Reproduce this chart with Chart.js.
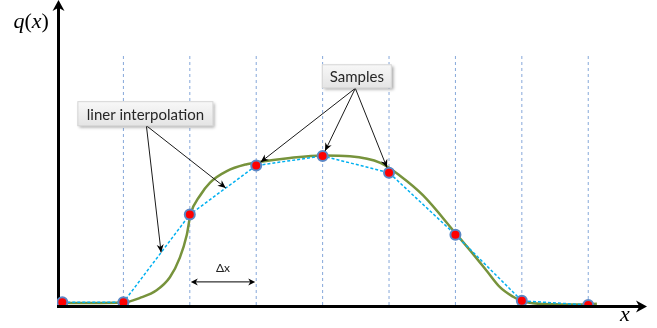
<!DOCTYPE html>
<html>
<head>
<meta charset="utf-8">
<script src="https://cdn.jsdelivr.net/npm/chart.js@4/dist/chart.umd.min.js"></script>
<style>
  html, body { margin: 0; padding: 0; background: #fff; }
  #wrap { width: 657px; height: 328px; }
</style>
</head>
<body>
<div id="wrap"><canvas id="sampling"></canvas></div>
<script>
// Sample positions (in units of Δx) and sampled values q(x_i)
const sampleX = [0.08, 1, 2, 3, 4, 5, 6, 7, 8]
const sampleQ = [0.018, 0.018, 0.607, 0.936, 1.0, 0.888, 0.472, 0.028, 0.0]

// Underlying continuous signal q(x)
const curveX = [0.02, 0.5, 1.0, 1.25, 1.5, 1.7, 1.85, 1.955, 2.01, 2.155, 2.305, 2.557, 2.858, 3.01, 3.51, 4.01, 4.41, 4.87, 5.17, 5.51, 6.02, 6.27, 6.47, 6.67, 6.87, 7.0, 7.17, 7.6, 7.98, 8.13]
const curveQ = [0.013, 0.013, 0.016, 0.048, 0.099, 0.186, 0.318, 0.472, 0.607, 0.735, 0.822, 0.899, 0.945, 0.958, 0.987, 1.003, 0.998, 0.954, 0.866, 0.737, 0.472, 0.340, 0.230, 0.120, 0.055, 0.026, 0.011, 0.004, 0.003, 0.008]

// Sampling grid lines
const gridX = [1, 2, 3, 4, 5, 6, 7, 8]
const gridTop = 1.678

// Callouts: text, centre (data units), arrow targets
const linerLabel = 'liner interpolation'
const linerCenter = [1.331, 1.284]
const linerTargetsX = [2.542, 1.568]   // points on the interpolation line
const samplesLabel = 'Samples'
const samplesCenter = [4.515, 1.535]
const samplesTargets = [3, 4, 5]       // indices into sample arrays
const deltaSpan = [2, 3]
const deltaQ = 0.155

const toPoints = (xs, ys) => xs.map((x, i) => ({ x: x, y: ys[i] }))

const interpQ = (x) => {
    for (let i = 0; i < sampleX.length - 1; i++) {
        if (x >= sampleX[i] && x <= sampleX[i + 1]) {
            const t = (x - sampleX[i]) / (sampleX[i + 1] - sampleX[i])
            return sampleQ[i] + t * (sampleQ[i + 1] - sampleQ[i])
        }
    }
    return 0
}

const gridSets = gridX.map(x => ({
    data: [{ x: x, y: 0 }, { x: x, y: gridTop }],
    showLine: true,
    borderColor: '#86A8DA',
    borderWidth: 1,
    borderDash: [3, 3],
    pointRadius: 0
}))

function arrowHead(ctx, fromX, fromY, toX, toY, len, half) {
    const a = Math.atan2(toY - fromY, toX - fromX)
    ctx.save()
    ctx.translate(toX, toY)
    ctx.rotate(a)
    ctx.beginPath()
    ctx.moveTo(0, 0)
    ctx.lineTo(-len, -half)
    ctx.lineTo(-len * 0.7, 0)
    ctx.lineTo(-len, half)
    ctx.closePath()
    ctx.fill()
    ctx.restore()
}

function calloutBox(ctx, text, cx, cy, w, h) {
    ctx.save()
    const x = cx - w / 2, y = cy - h / 2
    ctx.shadowColor = 'rgba(0,0,0,0.35)'
    ctx.shadowBlur = 3
    ctx.shadowOffsetX = 2
    ctx.shadowOffsetY = 2
    const g = ctx.createLinearGradient(0, y, 0, y + h)
    g.addColorStop(0, '#f8f8f8')
    g.addColorStop(1, '#e4e4e4')
    ctx.fillStyle = g
    ctx.fillRect(x, y, w, h)
    ctx.restore()
    ctx.save()
    ctx.strokeStyle = '#d6d6d6'
    ctx.lineWidth = 1
    ctx.strokeRect(x + 0.5, y + 0.5, w - 1, h - 1)
    ctx.fillStyle = '#262626'
    ctx.font = '15px Lato'
    ctx.textAlign = 'center'
    ctx.textBaseline = 'middle'
    ctx.fillText(text, cx, cy + 1)
    ctx.restore()
}

const diagramPlugin = {
    id: 'diagram',
    beforeDatasetsDraw(chart) {
        const { ctx, scales: { x, y } } = chart
        // axes
        const ax = x.getPixelForValue(0) + 1.5
        const ay = y.getPixelForValue(0) + 1.5
        ctx.save()
        ctx.strokeStyle = '#000'
        ctx.fillStyle = '#000'
        ctx.lineWidth = 3
        ctx.beginPath()
        ctx.moveTo(ax, ay)
        ctx.lineTo(ax, 6)
        ctx.moveTo(ax - 1.5, ay)
        ctx.lineTo(640, ay)
        ctx.stroke()
        arrowHead(ctx, ax, ay, ax, 0, 11, 6)
        arrowHead(ctx, ax, ay, 647, ay, 11, 6)
        ctx.restore()
    },
    afterDatasetsDraw(chart) {
        const { ctx, scales: { x, y } } = chart
        const ax = x.getPixelForValue(0) + 1.5
        const ay = y.getPixelForValue(0) + 1.5

        // axis labels
        ctx.save()
        ctx.fillStyle = '#000'
        ctx.textBaseline = 'alphabetic'
        let px = ax - 45
        const parts = [['q', 'italic'], ['(', 'normal'], ['x', 'italic'], [')', 'normal']]
        parts.forEach(([s, st]) => {
            ctx.font = st + ' 22px "Liberation Serif"'
            ctx.fillText(s, px, 28)
            px += ctx.measureText(s).width
        })
        ctx.font = 'italic 22px "Liberation Serif"'
        ctx.fillText('x', 620, 321)
        ctx.restore()

        // Δx span
        const d0 = x.getPixelForValue(deltaSpan[0]) + 1
        const d1 = x.getPixelForValue(deltaSpan[1]) - 1
        const dy = y.getPixelForValue(deltaQ)
        ctx.save()
        ctx.strokeStyle = '#000'
        ctx.fillStyle = '#000'
        ctx.lineWidth = 1
        ctx.beginPath()
        ctx.moveTo(d0 + 4, dy)
        ctx.lineTo(d1 - 4, dy)
        ctx.stroke()
        arrowHead(ctx, d1, dy, d0, dy, 7, 3.5)
        arrowHead(ctx, d0, dy, d1, dy, 7, 3.5)
        ctx.font = '12px Lato'
        ctx.textAlign = 'center'
        ctx.fillStyle = '#222'
        ctx.fillText('Δx', (d0 + d1) / 2, dy - 10)
        ctx.restore()

        // callout arrows
        ctx.save()
        ctx.strokeStyle = '#1a1a1a'
        ctx.fillStyle = '#000'
        ctx.lineWidth = 1
        const lcx = x.getPixelForValue(linerCenter[0])
        const lcy = y.getPixelForValue(linerCenter[1])
        const lox = lcx + 1, loy = lcy + 12
        linerTargetsX.forEach(tx => {
            const px2 = x.getPixelForValue(tx)
            const py2 = y.getPixelForValue(interpQ(tx))
            ctx.beginPath()
            ctx.moveTo(lox, loy)
            ctx.lineTo(px2, py2)
            ctx.stroke()
            arrowHead(ctx, lox, loy, px2, py2, 8, 3.5)
        })
        const scx = x.getPixelForValue(samplesCenter[0])
        const scy = y.getPixelForValue(samplesCenter[1])
        const sox = scx - 1.5, soy = scy + 12
        samplesTargets.forEach(i => {
            const tx = x.getPixelForValue(sampleX[i])
            const ty = y.getPixelForValue(sampleQ[i])
            const a = Math.atan2(ty - soy, tx - sox)
            const ex = tx - Math.cos(a) * 5.5
            const ey = ty - Math.sin(a) * 5.5
            ctx.beginPath()
            ctx.moveTo(sox, soy)
            ctx.lineTo(ex, ey)
            ctx.stroke()
            arrowHead(ctx, sox, soy, ex, ey, 8, 3.5)
        })
        ctx.restore()

        // callout boxes
        calloutBox(ctx, linerLabel, lcx, lcy, 136, 25)
        calloutBox(ctx, samplesLabel, scx, scy, 70, 24)
    }
}

new Chart(document.getElementById('sampling'), {
    type: 'scatter',
    data: {
        datasets: [
            {
                label: 'Samples',
                data: toPoints(sampleX, sampleQ),
                showLine: false,
                pointRadius: 5,
                pointBackgroundColor: '#FF0000',
                pointBorderColor: '#5B87C5',
                pointBorderWidth: 2
            },
            {
                label: 'Linear interpolation',
                data: toPoints(sampleX, sampleQ),
                showLine: true,
                borderColor: '#00B0F0',
                borderWidth: 1.5,
                borderDash: [3, 2],
                pointRadius: 0
            },
            {
                label: 'q(x)',
                data: toPoints(curveX, curveQ),
                showLine: true,
                borderColor: '#77933C',
                borderWidth: 2.5,
                cubicInterpolationMode: 'monotone',
                pointRadius: 0
            },
            ...gridSets
        ]
    },
    options: {
        responsive: true,
        maintainAspectRatio: false,
        animation: false,
        events: [],
        layout: {
            padding: { left: 57, right: 9, top: 1, bottom: 23 }
        },
        plugins: {
            legend: { display: false },
            tooltip: { enabled: false }
        },
        scales: {
            x: { type: 'linear', min: 0, max: 8.9, display: false },
            y: { type: 'linear', min: 0, max: 2.0, display: false }
        }
    },
    plugins: [diagramPlugin]
})
</script>
</body>
</html>
